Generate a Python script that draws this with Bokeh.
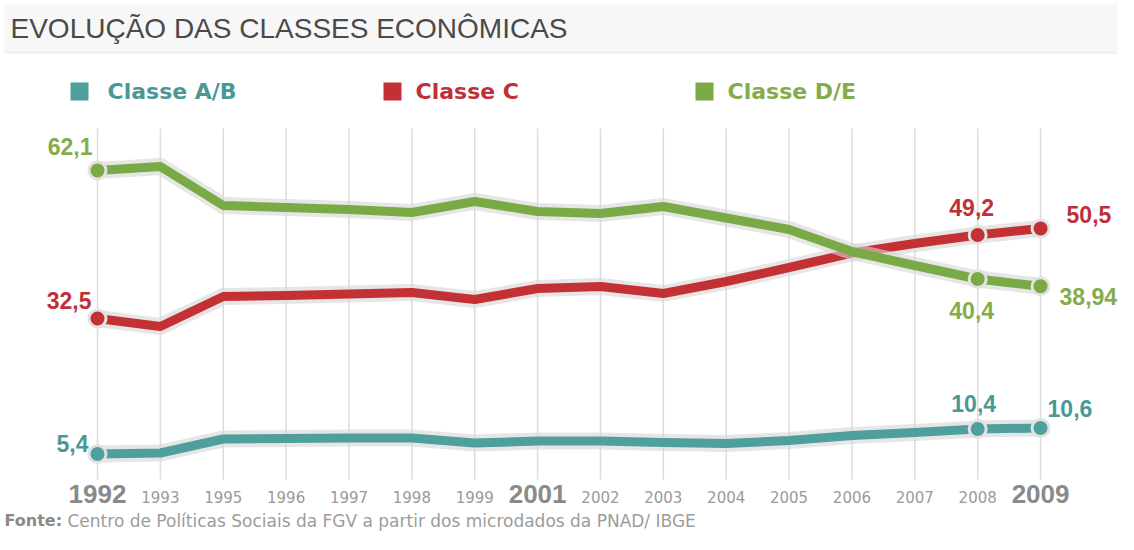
from bokeh.plotting import figure
from bokeh.models import Range1d, BoxAnnotation
from bokeh.core.properties import value
from bokeh.embed import file_html
from bokeh.resources import INLINE

# ---------------- data ----------------
years = ["1992", "1993", "1995", "1996", "1997", "1998", "1999", "2001",
         "2002", "2003", "2004", "2005", "2006", "2007", "2008", "2009"]
classe_ab = [5.4, 5.6, 8.4, 8.5, 8.6, 8.6, 7.6, 8.0, 8.0, 7.7, 7.5, 8.1, 9.1, 9.7, 10.4, 10.6]
classe_c = [32.5, 30.9, 36.9, 37.1, 37.4, 37.7, 36.3, 38.5, 38.9, 37.5, 39.9, 42.7, 45.6, 47.5, 49.2, 50.5]
classe_de = [62.1, 62.9, 55.1, 54.7, 54.3, 53.7, 55.9, 53.9, 53.5, 54.9, 52.6, 50.3, 45.9, 43.1, 40.4, 38.94]
series_names = ["Classe A/B", "Classe C", "Classe D/E"]
highlight_years = ["1992", "2001", "2009"]
labelled_years = ["1992", "2008", "2009"]
title_text = "EVOLUÇÃO DAS CLASSES ECONÔMICAS"
source_label = "Fonte:"
source_text = "Centro de Políticas Sociais da FGV a partir dos microdados da PNAD/ IBGE"

# ---------------- styles / layout ----------------
colors = ["#4f9f9c", "#c43134", "#7aaa45"]
label_colors = ["#4a9896", "#c0303a", "#84ac4c"]
W, H = 1118, 534
X0, DX = 97.0, 62.87
Y_REF_V, Y_REF_PX, PPU = 62.1, 170.0, 5.0


def px2x(px):
    return (px - X0) / DX


def px2y(py):
    return Y_REF_V - (py - Y_REF_PX) / PPU


p = figure(width=W, height=H,
           x_range=Range1d(px2x(0), px2x(W)),
           y_range=Range1d(px2y(H), px2y(0)),
           x_axis_location=None, y_axis_location=None,
           output_backend="svg", toolbar_location=None, min_border=0)
p.grid.visible = False
p.outline_line_color = None
p.background_fill_color = "white"
p.border_fill_color = "white"

# title bar
p.add_layout(BoxAnnotation(left=px2x(4), top=px2y(4), bottom=px2y(51),
                           fill_color="#f7f7f7", fill_alpha=1.0,
                           line_color=None, level="underlay"))
p.add_layout(BoxAnnotation(left=px2x(4), top=px2y(51), bottom=px2y(53),
                           fill_color="#efefef", fill_alpha=1.0,
                           line_color=None, level="underlay"))
p.text(x=[px2x(10)], y=[px2y(28)], text=[title_text],
       text_font=value("Liberation Sans"), text_font_size="28px",
       text_color="#4a4a4a", text_align="left", text_baseline="middle")

# legend
legend_sq_px = [79, 392, 704]
legend_tx_px = [107, 415, 727]
for i, name in enumerate(series_names):
    p.scatter(x=[px2x(legend_sq_px[i])], y=[px2y(91)], marker="square", size=18,
              fill_color=colors[i], line_color=None)
    p.text(x=[px2x(legend_tx_px[i])], y=[px2y(91)], text=[name],
           text_font=value("DejaVu Sans"), text_font_style="bold",
           text_font_size="22px", text_color=label_colors[i],
           text_align="left", text_baseline="middle")

# vertical grid lines
idx = list(range(len(years)))
p.segment(x0=idx, x1=idx, y0=[px2y(128)] * len(idx), y1=[px2y(479)] * len(idx),
          line_color="#dcdcdc", line_width=1.5)

# series lines
all_series = [classe_ab, classe_c, classe_de]
for i, vals in enumerate(all_series):
    p.line(idx, vals, line_width=17, line_color="#d6d6d6", line_alpha=0.6,
           line_join="round", line_cap="round")
    p.line(idx, vals, line_width=9, line_color=colors[i], line_join="round")
    mi = [years.index(y) for y in labelled_years]
    p.scatter([idx[k] for k in mi], [vals[k] for k in mi], size=17,
              fill_color=colors[i], line_color="#e2e2e2", line_width=3)

# value labels (offsets in screen pixels)
label_layout = [
    [(-9, -11, "right"), (-4, -26, "center"), (7, -20, "left")],
    [(-6, -18, "right"), (-6, -28, "center"), (26, -14, "left")],
    [(-5, -24, "right"), (-6, 31, "center"), (19, 10, "left")],
]
for i, vals in enumerate(all_series):
    for j, yr in enumerate(labelled_years):
        k = years.index(yr)
        xo, yo, al = label_layout[i][j]
        txt = f"{vals[k]:g}".replace(".", ",")
        p.text(x=[idx[k]], y=[vals[k]], text=[txt], x_offset=xo, y_offset=yo,
               text_font=value("Liberation Sans"), text_font_style="bold",
               text_font_size="23px", text_color=label_colors[i],
               text_align=al, text_baseline="middle")

# x tick labels
reg = [k for k, y in enumerate(years) if y not in highlight_years]
big = [k for k, y in enumerate(years) if y in highlight_years]
p.text(x=reg, y=[px2y(496)] * len(reg), text=[years[k] for k in reg],
       text_font=value("DejaVu Sans"), text_font_size="15px", text_color="#9a9a9a",
       text_align="center", text_baseline="middle")
p.text(x=big, y=[px2y(493)] * len(big), text=[years[k] for k in big],
       text_font=value("Liberation Sans"), text_font_style="bold",
       text_font_size="26px", text_color="#8a8a8a",
       text_align="center", text_baseline="middle")

# footer
p.text(x=[px2x(4)], y=[px2y(520)], text=[source_label],
       text_font=value("DejaVu Sans"), text_font_style="bold", text_font_size="16px",
       text_color="#8a8a8a", text_align="left", text_baseline="middle")
p.text(x=[px2x(67)], y=[px2y(520)], text=[source_text],
       text_font=value("DejaVu Sans"), text_font_size="17px",
       text_color="#9c9c9c", text_align="left", text_baseline="middle")

open("out.html", "w").write(file_html(p, INLINE))
